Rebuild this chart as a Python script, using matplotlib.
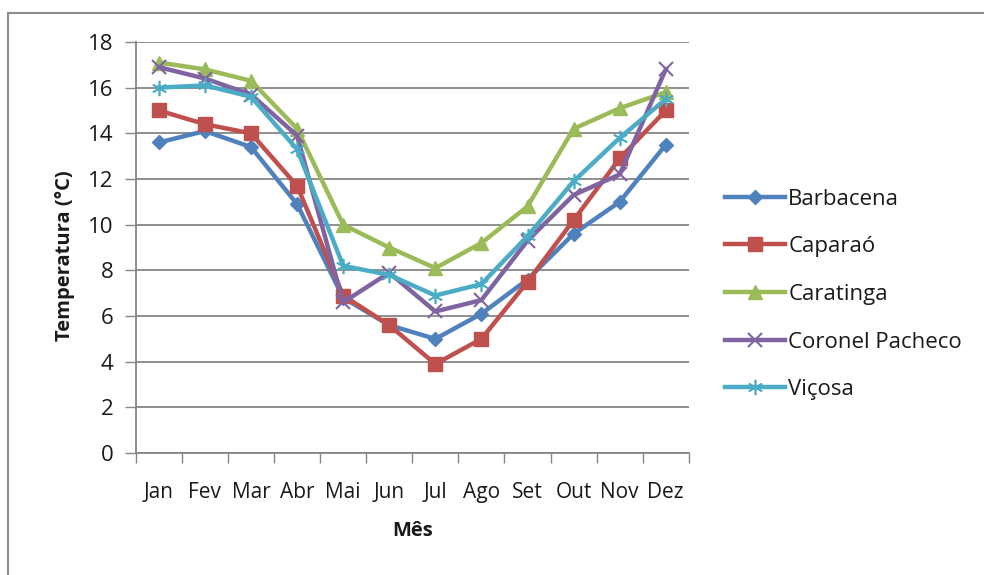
import matplotlib.pyplot as plt
from matplotlib.patches import Rectangle

plt.rcParams['font.family'] = ['Open Sans', 'DejaVu Sans']

meses = ['Jan', 'Fev', 'Mar', 'Abr', 'Mai', 'Jun', 'Jul', 'Ago', 'Set', 'Out', 'Nov', 'Dez']

barbacena = [13.6, 14.1, 13.4, 10.9, 6.8, 5.6, 5.0, 6.1, 7.6, 9.6, 11.0, 13.5]
caparao = [15.0, 14.4, 14.0, 11.7, 6.9, 5.6, 3.9, 5.0, 7.5, 10.2, 12.9, 15.0]
caratinga = [17.1, 16.8, 16.3, 14.2, 10.0, 9.0, 8.1, 9.2, 10.8, 14.2, 15.1, 15.8]
coronel_pacheco = [16.9, 16.4, 15.7, 13.9, 6.6, 7.9, 6.2, 6.7, 9.3, 11.3, 12.2, 16.8]
vicosa = [16.0, 16.1, 15.6, 13.3, 8.2, 7.8, 6.9, 7.4, 9.5, 11.9, 13.8, 15.5]

series = [
    ('Barbacena', barbacena, '#4F81BD', 'D', 7, 1),
    ('Caparaó', caparao, '#C0504D', 's', 10, 1),
    ('Caratinga', caratinga, '#9BBB59', '^', 10, 1),
    ('Coronel Pacheco', coronel_pacheco, '#8064A2', 'x', 10, 1.5),
    ('Viçosa', vicosa, '#4BACC6', (6, 2, 0), 11, 1.2),
]

fig = plt.figure(figsize=(9.84, 5.75), dpi=100)
fig.patches.append(Rectangle((0.008, -0.05), 1.2, 1.027, transform=fig.transFigure,
                             fill=False, edgecolor='#8c8c8c', linewidth=1.5))

ax = fig.add_axes([0.138, 0.212, 0.562, 0.715])
x = range(len(meses))
for nome, vals, cor, mk, ms, mew in series:
    ax.plot(x, vals, color=cor, linewidth=3.2, marker=mk, markersize=ms,
            markeredgewidth=mew, markeredgecolor=cor, label=nome)

ax.set_xlim(-0.5, 11.5)
ax.set_ylim(0, 18)
ax.set_yticks(range(0, 19, 2))
ax.set_xticks(list(x))
ax.set_xticklabels(meses, fontsize=15, color='#1a1a1a')
ax.set_xticks([i - 0.5 for i in range(13)], minor=True)
ax.tick_params(axis='x', which='major', length=0, pad=21)
ax.tick_params(axis='x', which='minor', length=7, color='#868686', width=1)
ax.tick_params(axis='y', length=8, color='#868686', width=1, labelsize=16,
               labelcolor='#1a1a1a', pad=8)
ax.grid(axis='y', color='#868686', linewidth=1.3)
ax.set_axisbelow(True)
for s in ['top', 'right']:
    ax.spines[s].set_visible(False)
for s in ['left', 'bottom']:
    ax.spines[s].set_color('#868686')
    ax.spines[s].set_linewidth(1.3)

ax.set_xlabel('Mês', fontsize=14.5, fontweight='bold', color='#1a1a1a')
ax.xaxis.set_label_coords(0.5, -0.165)
ax.set_ylabel('Temperatura (°C)', fontsize=14.5, fontweight='bold', color='#1a1a1a')
ax.yaxis.set_label_coords(-0.11, 0.48)

ax.legend(loc='center left', bbox_to_anchor=(0.728, 0.488), bbox_transform=fig.transFigure,
          borderaxespad=0, frameon=False, fontsize=16, labelcolor='#1a1a1a',
          handlelength=2.7, handletextpad=0.14, labelspacing=1.2)

fig.savefig('out.png', dpi=100)
